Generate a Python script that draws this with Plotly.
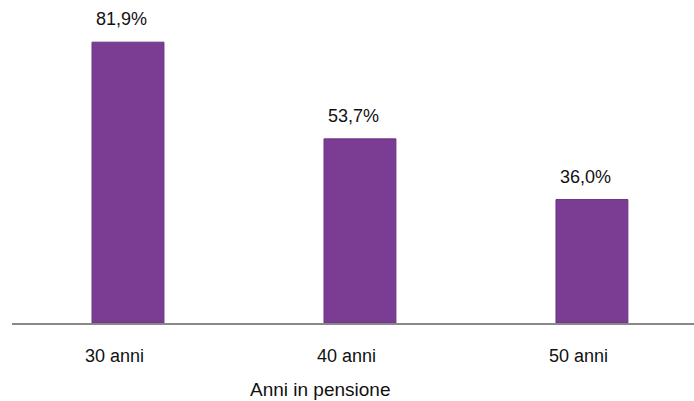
import plotly.graph_objects as go

categories = ["30 anni", "40 anni", "50 anni"]
values = [81.9, 53.7, 36.0]
labels = ["81,9%", "53,7%", "36,0%"]
xpos = [0, 1, 2]

FONT = "Liberation Sans, Arial"
fig = go.Figure()
fig.add_trace(go.Bar(x=xpos, y=values, width=0.31,
                     marker=dict(color="#7b3c94", line=dict(color="#6a3382", width=1))))
for x, v, t in zip(xpos, values, labels):
    fig.add_annotation(x=x, y=v, text=t, showarrow=False, yanchor="middle", yshift=23, xshift=-6.5,
                       font=dict(family=FONT, size=18, color="#111"))
for x, c in zip(xpos, categories):
    fig.add_annotation(x=x, y=0, text=c, showarrow=False, yanchor="middle", yshift=-33, xshift=-13,
                       font=dict(family=FONT, size=18, color="#111"))
fig.add_annotation(x=(320-12)/682, y=-(389-323)/323, xref="x domain", yref="y domain",
                   text="Anni in pensione", showarrow=False, yanchor="middle",
                   font=dict(family=FONT, size=19, color="#111"))
fig.update_layout(
    width=694, height=401, margin=dict(l=12, r=0, t=0, b=78),
    plot_bgcolor="white", paper_bgcolor="white", showlegend=False,
    xaxis=dict(range=[-0.5, 2.44], showticklabels=False,
               showline=True, linecolor="#888", linewidth=2, showgrid=False, zeroline=False,
               ticks=""),
    yaxis=dict(range=[0, 94.2], visible=False),
)
fig.write_html("out.html")
